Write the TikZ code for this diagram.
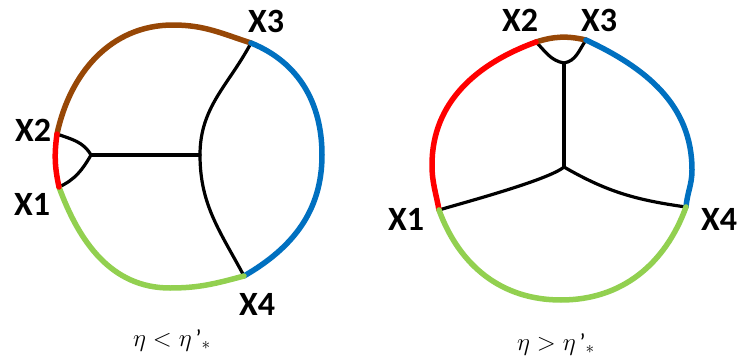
\documentclass[tikz,border=0pt]{standalone}
\usepackage{fontspec}
\setmainfont{Carlito}
\definecolor{rimbrown}{HTML}{974706}
\definecolor{rimred}{HTML}{FF0000}
\definecolor{rimblue}{HTML}{0070C0}
\definecolor{rimgreen}{HTML}{92D050}
\begin{document}
\begin{tikzpicture}[x=1pt,y=1pt,
rim/.style={line width=5.5pt, line cap=round},
web/.style={line width=3.2pt, line cap=round},
tag/.style={font=\fontsize{34}{34}\selectfont\bfseries, inner sep=0pt},
note/.style={font=\fontsize{24}{24}\selectfont, inner sep=0pt},]
\useasboundingbox (0,0) rectangle (742,360);

\coordinate (a2) at (57,226);
\coordinate (a1) at (59,173);
\coordinate (a3) at (251,317);
\coordinate (a4) at (244,84);
\coordinate (atop) at (173,335);
\coordinate (aright) at (322,205);
\coordinate (abot) at (170,72);
\coordinate (atip) at (91,205);
\coordinate (ajoin) at (200,205);

\node[tag] (la3) at (266,339) {X3};
\node[tag] (la2) at (33,230) {X2};
\node[tag] (la1) at (32,156) {X1};
\node[tag] (la4) at (257,56) {X4};
\node[note] (lower) at (172,20) {$\eta < \eta$\,'$_{*}$};

\draw[web] (a2) to[out=-20,in=120] (atip) to[out=-120,in=25] (a1);
\draw[web] (atip) -- (ajoin);
\draw[web] (a3) to[out=-118,in=90] (ajoin) to[out=-90,in=118] (a4);

\draw[rim, rimbrown] (a2) to[out=78,in=180] (atop) to[out=0,in=162] (a3);
\draw[rim, rimblue] (a3) to[out=-22,in=90] (aright) to[out=-90,in=30] (a4);
\draw[rim, rimgreen] (a1) to[out=-70,in=180] (abot) to[out=0,in=195] (a4);
\draw[rim, rimred] (a2) to[bend right=10] (a1);

\coordinate (b2) at (536,318);
\coordinate (b3) at (586,320);
\coordinate (b1) at (439,150);
\coordinate (b4) at (686,153);
\coordinate (bleft) at (432,195);
\coordinate (bright) at (692,190);
\coordinate (bbot) at (561,60);
\coordinate (btip) at (564,297);
\coordinate (bjoin) at (564,193);

\node[tag] (lb2) at (520,340) {X2};
\node[tag] (lb3) at (599,340) {X3};
\node[tag] (lb1) at (406,141) {X1};
\node[tag] (lb4) at (719,141) {X4};
\node[note] (upper) at (556,16) {$\eta > \eta$\,'$_{*}$};

\draw[web] (b2) to[out=-45,in=170] (btip) to[out=10,in=-125] (b3);
\draw[web] (btip) -- (bjoin);
\draw[web] (bjoin) to[out=-140,in=17,looseness=0.4] (b1);
\draw[web] (bjoin) to[out=-30,in=172] (b4);

\draw[rim, rimbrown] (b2) to[bend left=15] (b3);
\draw[rim, rimred] (b2) to[out=200,in=90] (bleft) to[out=-90,in=100] (b1);
\draw[rim, rimblue] (b3) to[out=-25,in=90] (bright) to[out=-90,in=85] (b4);
\draw[rim, rimgreen] (b1) to[out=-70,in=180] (bbot) to[out=0,in=-110] (b4);
\end{tikzpicture}
\end{document}
